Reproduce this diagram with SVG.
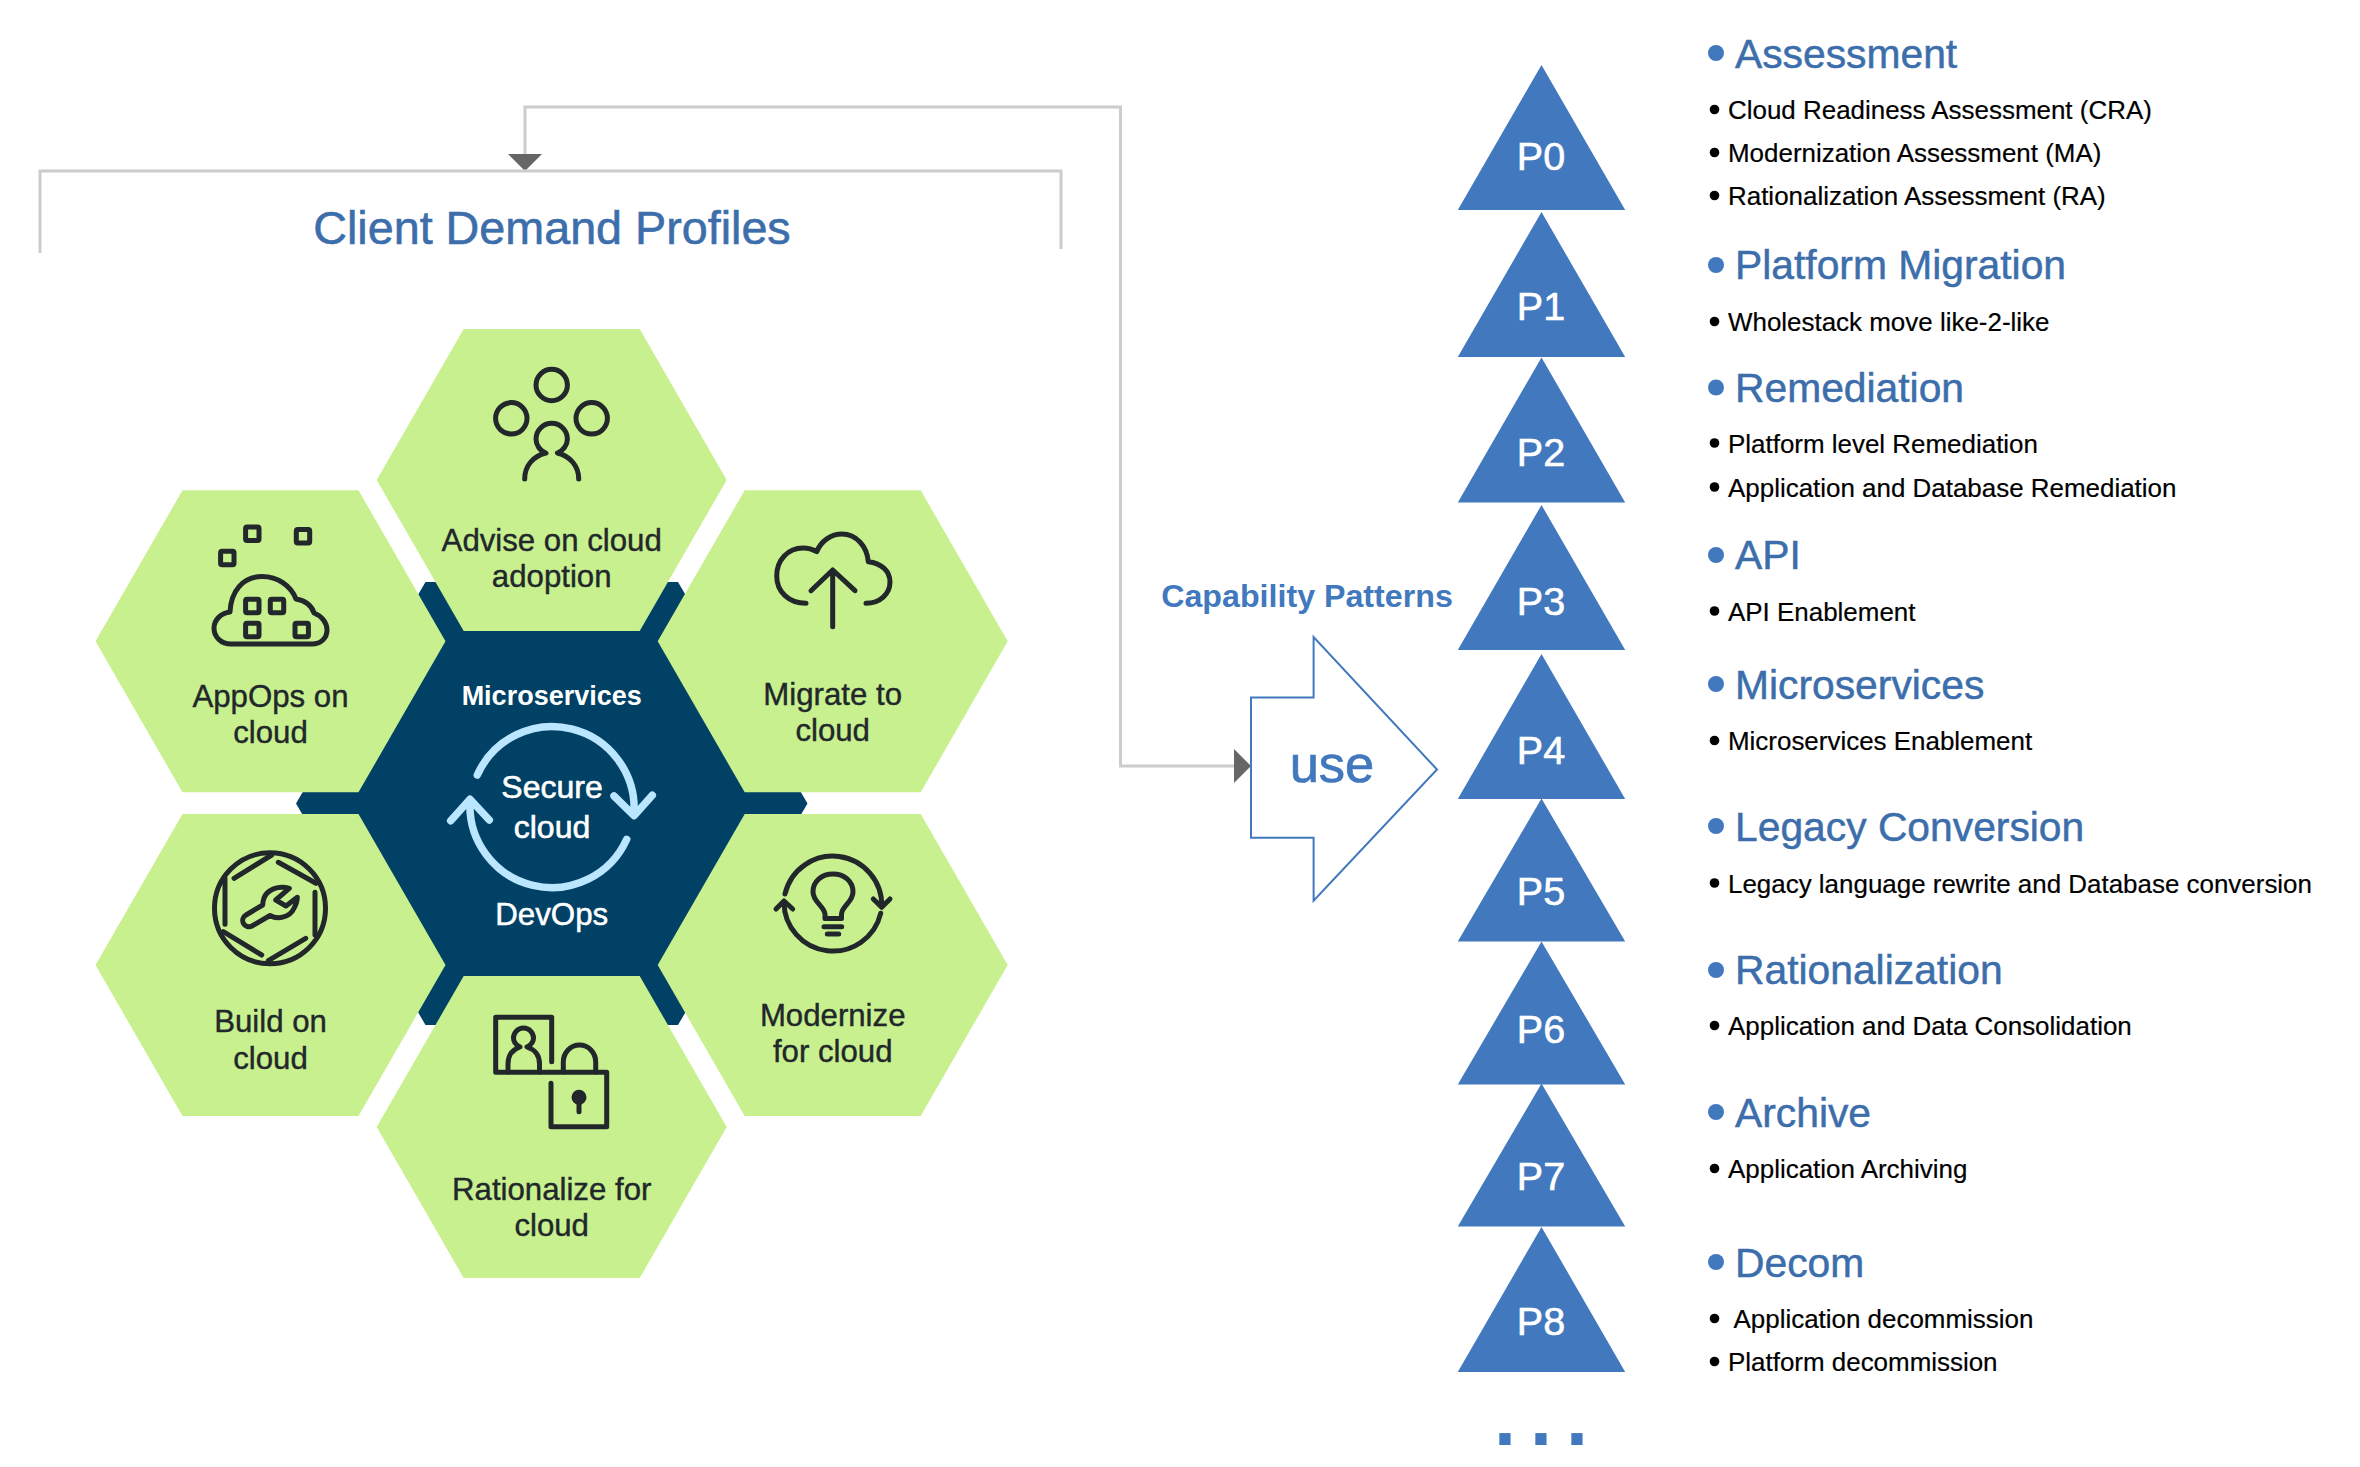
<svg xmlns="http://www.w3.org/2000/svg" width="2360" height="1467" viewBox="0 0 2360 1467">
<style>
text{font-family:"Liberation Sans",Arial,sans-serif}
.hex{fill:#c8f08f}
.ic{fill:none;stroke:#21272a;stroke-width:5;stroke-linecap:round;stroke-linejoin:round}
.lb{font-size:31.2px;fill:#21272a;text-anchor:middle;stroke:#21272a;stroke-width:.4}
.wt{fill:#fff;text-anchor:middle}
.cy{fill:none;stroke:#bae6ff;stroke-width:7.5;stroke-linecap:round;stroke-linejoin:round}
.tri{fill:#4178be}
.pl{font-size:39.5px;fill:#fff;text-anchor:middle;stroke:#fff;stroke-width:.6}
.hd{font-size:40.8px;fill:#3c6eab;stroke:#3c6eab;stroke-width:.5}
.it{font-size:25.95px;fill:#000;stroke:#000;stroke-width:.2}
.hb{fill:#4178be}
.conn{fill:none;stroke:#ccc;stroke-width:3}
</style>
<defs>
<marker id="ah" markerUnits="userSpaceOnUse" viewBox="0 0 17 34" refX="0" refY="17" markerWidth="17" markerHeight="34" orient="auto-start-reverse"><path d="M0 0L17 17L0 34Z" fill="#666"/></marker>
<polygon id="h" points="-175,0 -88,-151 88,-151 175,0 88,151 -88,151"/>
<rect id="sq" x="-6.7" y="-6.7" width="13.4" height="13.4" rx="1.5"/>
<polygon id="t" points="0,0 83.7,145 -83.7,145"/>
<polygon id="t2" points="0,0 83.7,143 -83.7,143"/>
</defs>

<g id="connectors">
<path class="conn" d="M1234 766H1120.5V107H525V154" marker-start="url(#ah)" marker-end="url(#ah)"/>
</g>

<g id="client-demand-profiles">
<path class="conn" d="M40 253V171H1061V249"/>
<text x="552" y="244" font-size="46.7" fill="#3c6eab" stroke="#3c6eab" stroke-width=".6" text-anchor="middle">Client Demand Profiles</text>
</g>

<g id="center">
<polygon points="296,803.5 425.5,582 678,582 807.5,803.5 678,1025 425.5,1025" fill="#004165"/>
<path class="cy" d="M477.3 775A82 82 0 0 1 634 813M614 796L634 815.7L652.3 795.3"/>
<path class="cy" d="M626.7 839.3A82 82 0 0 1 470 802M450.7 820.7L470 799.3L489.3 820"/>
<text class="wt" x="551.7" y="705" font-size="27" font-weight="700">Microservices</text>
<text class="wt" x="552" y="798.3" font-size="32" stroke="#fff" stroke-width=".6">Secure</text>
<text class="wt" x="552" y="838" font-size="32" stroke="#fff" stroke-width=".6">cloud</text>
<text class="wt" x="551.7" y="925" font-size="31.3" stroke="#fff" stroke-width=".5">DevOps</text>
</g>

<g id="advise">
<use href="#h" class="hex" x="551.7" y="480"/>
<g class="ic">
<circle cx="551.7" cy="385" r="15.7"/><circle cx="511.3" cy="418.3" r="15.7"/><circle cx="591.7" cy="418.3" r="15.7"/>
<path d="M524.7 479C524.7 466 533 456 546 453C540 451 536 445 536 439A15.7 15.7 0 1 1 567.4 439C567.4 445 563 451 557.4 453C570 456 578.7 466 578.7 479"/>
</g>
<text class="lb" x="551.7" y="550.6">Advise on cloud</text>
<text class="lb" x="551.7" y="587">adoption</text>
</g>

<g id="appops">
<use href="#h" class="hex" x="270.5" y="641.3"/>
<g class="ic">
<use href="#sq" x="252.3" y="533.7"/><use href="#sq" x="303" y="536.3"/><use href="#sq" x="227.3" y="558"/>
<use href="#sq" x="252.3" y="606"/><use href="#sq" x="277" y="606"/><use href="#sq" x="252.3" y="630"/><use href="#sq" x="301.7" y="630"/>
<path d="M230 612C231 591 243 576.5 262 576.5C278 576.5 291 586 296 599C305 600 312 606 314 613C322 616 327 623 327 630C327 638 321 644 312 644H231C221 644 214 637 214 628C214 620 221 613 230 612Z"/>
</g>
<text class="lb" x="270.5" y="706.5">AppOps on</text>
<text class="lb" x="270.5" y="743">cloud</text>
</g>

<g id="migrate">
<use href="#h" class="hex" x="832.7" y="641.3"/>
<path class="ic" d="M806 603.3C789 603.3 776.7 592 776.7 576C776.7 560 788 548 803 548C808 548 813 549.5 816.7 551.7C821 541 831 534 842 534C856 534 867 546 868.3 561.7C881 563 890 571 890 582C890 594 880 603.3 866 603.3M832.7 626.7V570M811 590.7L832.7 570L855 590.7"/>
<text class="lb" x="832.7" y="704.7">Migrate to</text>
<text class="lb" x="832.7" y="741.4">cloud</text>
</g>

<g id="build">
<use href="#h" class="hex" x="270.5" y="965"/>
<g class="ic">
<circle cx="270" cy="908.3" r="55.5"/>
<path d="M234 878.3L271.7 855M278.3 862.3L316 883.3M315 892.3V935M305.7 938.3L268.3 960.7M261.7 955L223.3 931.7M225 924.3V878.3"/>
<path d="M262.7 905L246 915A6.2 6.2 0 0 0 252 926L270 915.5C278 920 290 917.3 294 908.3C296.5 904 297.3 900 297.3 897.3L286 906L275.7 900L289.3 888.3C278 885 267 890 264 898C263 901 262.7 903 262.7 905Z"/>
</g>
<text class="lb" x="270.5" y="1032">Build on</text>
<text class="lb" x="270.5" y="1068.5">cloud</text>
</g>

<g id="modernize">
<use href="#h" class="hex" x="832.7" y="965"/>
<g class="ic">
<path d="M785 894A49 49 0 0 1 881.7 906.7M873.3 899L881.7 907.3L890 899M880.7 913.3A49 49 0 0 1 784 902M776 909L784 901L792.7 909"/>
<path d="M825 918.5H841.5V914C842 906 853 902 853 892C853 881 844 874 833 874C822 874 813 881 813 892C813 902 824 906 825 914Z"/>
<path d="M824 926.7H841.7M827.3 934H838.7"/>
</g>
<text class="lb" x="832.7" y="1026">Modernize</text>
<text class="lb" x="832.7" y="1062">for cloud</text>
</g>

<g id="rationalize">
<use href="#h" class="hex" x="551.7" y="1127"/>
<g class="ic">
<path d="M551.7 1061.7V1017.3H495.7V1072.3H606.7V1126.7H551V1083.3"/>
<path d="M508 1072V1064C508 1054 514 1049 520 1047C516 1045 513.5 1042 513.5 1038A10 10 0 1 1 533.5 1038C533.5 1042 531 1045 527 1047C533 1049 539.5 1054 539.5 1064V1072"/>
<path d="M563.3 1072V1062A16.2 17 0 0 1 595.7 1062V1072"/>
<path d="M579 1097V1111.7"/>
<circle cx="579" cy="1097.3" r="5" fill="#21272a"/>
</g>
<text class="lb" x="551.7" y="1200">Rationalize for</text>
<text class="lb" x="551.7" y="1236">cloud</text>
</g>

<g id="use-arrow">
<path d="M1251 697.5H1313.6V637L1437 769.5L1313.6 900.7V837.7H1251Z" fill="#fff" stroke="#4178be" stroke-width="2"/>
<text x="1338" y="781.7" font-size="52.5" fill="#4178be" stroke="#4178be" stroke-width=".7" text-anchor="middle" dx="-6">use</text>
</g>
<g id="capability-patterns">
<text x="1307" y="607" font-size="32.2" font-weight="700" fill="#4178be" text-anchor="middle">Capability Patterns</text>
</g>

<g id="P0"><use href="#t" class="tri" x="1541.5" y="65"/><text class="pl" x="1541" y="170">P0</text></g>
<g id="P1"><use href="#t" class="tri" x="1541.5" y="212"/><text class="pl" x="1541" y="320">P1</text></g>
<g id="P2"><use href="#t" class="tri" x="1541.5" y="357.5"/><text class="pl" x="1541" y="465.5">P2</text></g>
<g id="P3"><use href="#t" class="tri" x="1541.5" y="505"/><text class="pl" x="1541" y="615">P3</text></g>
<g id="P4"><use href="#t" class="tri" x="1541.5" y="654"/><text class="pl" x="1541" y="764">P4</text></g>
<g id="P5"><use href="#t2" class="tri" x="1541.5" y="798.5"/><text class="pl" x="1541" y="905">P5</text></g>
<g id="P6"><use href="#t2" class="tri" x="1541.5" y="941.5"/><text class="pl" x="1541" y="1042.6">P6</text></g>
<g id="P7"><use href="#t2" class="tri" x="1541.5" y="1083.5"/><text class="pl" x="1541" y="1190">P7</text></g>
<g id="P8"><use href="#t" class="tri" x="1541.5" y="1227"/><text class="pl" x="1541" y="1334.6">P8</text></g>
<g id="more"><text x="1494" y="1445" font-size="79" font-weight="700" letter-spacing="14" fill="#4178be">...</text></g>

<g id="assessment">
<circle class="hb" cx="1716" cy="53" r="8"/><text class="hd" x="1735" y="67.5">Assessment</text>
<circle cx="1714.5" cy="109.5" r="4.8"/><text class="it" x="1728" y="119">Cloud Readiness Assessment (CRA)</text>
<circle cx="1714.5" cy="152.5" r="4.8"/><text class="it" x="1728" y="162">Modernization Assessment (MA)</text>
<circle cx="1714.5" cy="195.5" r="4.8"/><text class="it" x="1728" y="205">Rationalization Assessment (RA)</text>
</g>
<g id="platform-migration">
<circle class="hb" cx="1716" cy="265" r="8"/><text class="hd" x="1735" y="279">Platform Migration</text>
<circle cx="1714.5" cy="321.5" r="4.8"/><text class="it" x="1728" y="331">Wholestack move like-2-like</text>
</g>
<g id="remediation">
<circle class="hb" cx="1716" cy="387.5" r="8"/><text class="hd" x="1735" y="402">Remediation</text>
<circle cx="1714.5" cy="443" r="4.8"/><text class="it" x="1728" y="452.6">Platform level Remediation</text>
<circle cx="1714.5" cy="487" r="4.8"/><text class="it" x="1728" y="496.5">Application and Database Remediation</text>
</g>
<g id="api">
<circle class="hb" cx="1716" cy="555" r="8"/><text class="hd" x="1735" y="568.6">API</text>
<circle cx="1714.5" cy="611" r="4.8"/><text class="it" x="1728" y="620.6">API Enablement</text>
</g>
<g id="microservices">
<circle class="hb" cx="1716" cy="684" r="8"/><text class="hd" x="1735" y="698.5">Microservices</text>
<circle cx="1714.5" cy="740.5" r="4.8"/><text class="it" x="1728" y="750">Microservices Enablement</text>
</g>
<g id="legacy-conversion">
<circle class="hb" cx="1716" cy="826" r="8"/><text class="hd" x="1735" y="841">Legacy Conversion</text>
<circle cx="1714.5" cy="883" r="4.8"/><text class="it" x="1728" y="892.7">Legacy language rewrite and Database conversion</text>
</g>
<g id="rationalization">
<circle class="hb" cx="1716" cy="970" r="8"/><text class="hd" x="1735" y="984">Rationalization</text>
<circle cx="1714.5" cy="1025.5" r="4.8"/><text class="it" x="1728" y="1034.7">Application and Data Consolidation</text>
</g>
<g id="archive">
<circle class="hb" cx="1716" cy="1112" r="8"/><text class="hd" x="1735" y="1127">Archive</text>
<circle cx="1714.5" cy="1168.5" r="4.8"/><text class="it" x="1728" y="1178">Application Archiving</text>
</g>
<g id="decom">
<circle class="hb" cx="1716" cy="1262" r="8"/><text class="hd" x="1735" y="1276.8">Decom</text>
<circle cx="1714.5" cy="1318.5" r="4.8"/><text class="it" x="1733.5" y="1328">Application decommission</text>
<circle cx="1714.5" cy="1361.5" r="4.8"/><text class="it" x="1728" y="1371">Platform decommission</text>
</g>
</svg>
